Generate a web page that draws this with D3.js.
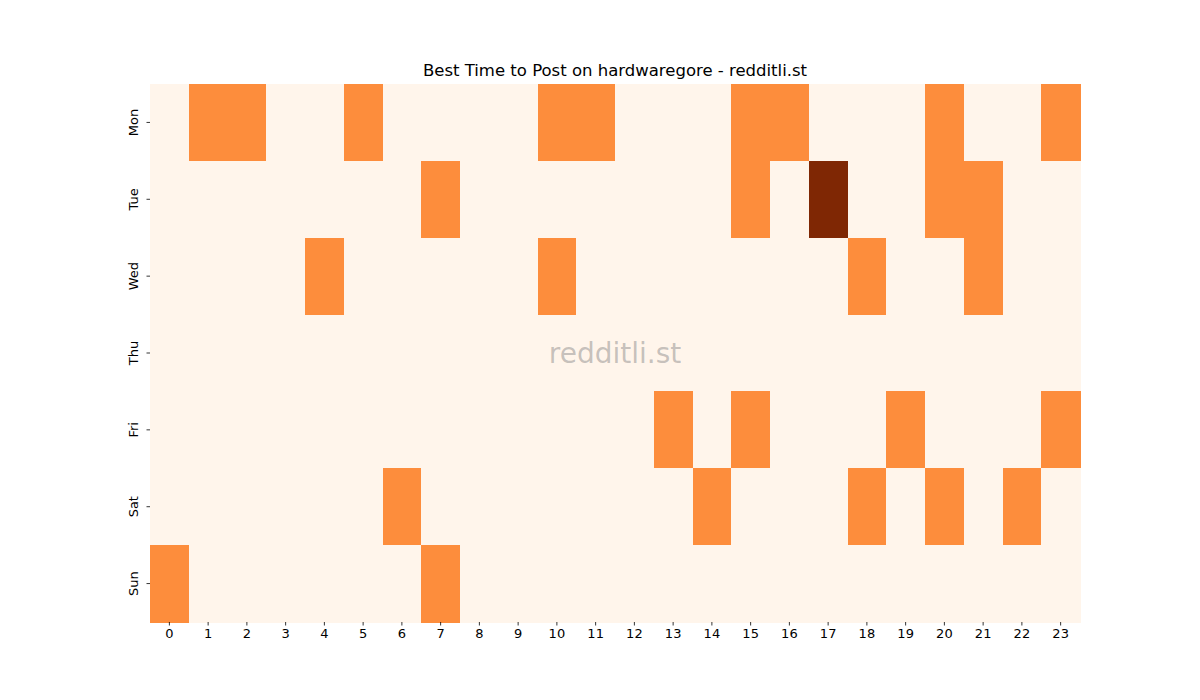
<!DOCTYPE html>
<html>
<head>
<meta charset="utf-8">
<script src="https://cdn.jsdelivr.net/npm/d3@7"></script>
<style>
  body { margin: 0; background: #fff; }
  svg text { font-family: "DejaVu Sans", sans-serif; }
</style>
</head>
<body>
<svg id="chart"></svg>
<script>
const days = ["Mon", "Tue", "Wed", "Thu", "Fri", "Sat", "Sun"];
const hours = d3.range(24).map(String);

// posts per hour, one row per weekday
const mon = [0,1,1,0,0,1,0,0,0,0,1,1,0,0,0,1,1,0,0,0,1,0,0,1];
const tue = [0,0,0,0,0,0,0,1,0,0,0,0,0,0,0,1,0,2,0,0,1,1,0,0];
const wed = [0,0,0,0,1,0,0,0,0,0,1,0,0,0,0,0,0,0,1,0,0,1,0,0];
const thu = [0,0,0,0,0,0,0,0,0,0,0,0,0,0,0,0,0,0,0,0,0,0,0,0];
const fri = [0,0,0,0,0,0,0,0,0,0,0,0,0,1,0,1,0,0,0,1,0,0,0,1];
const sat = [0,0,0,0,0,0,1,0,0,0,0,0,0,0,1,0,0,0,1,0,1,0,1,0];
const sun = [1,0,0,0,0,0,0,1,0,0,0,0,0,0,0,0,0,0,0,0,0,0,0,0];
const rows = [mon, tue, wed, thu, fri, sat, sun];

const w = 1200;
const h = 700;
const margin = { top: 84, right: 120, bottom: 78, left: 150 };

const svg = d3.select("#chart")
    .attr("width", w)
    .attr("height", h);

const xScale = d3.scaleBand()
    .domain(hours)
    .range([margin.left, w - margin.right]);

const yScale = d3.scaleBand()
    .domain(days)
    .range([margin.top, h - margin.bottom]);

const color = d3.scaleOrdinal()
    .domain([0, 1, 2])
    .range(["#fff5eb", "#fd8d3c", "#7f2704"]);

const cells = [];
rows.forEach((r, i) => r.forEach((v, j) => cells.push({ day: days[i], hour: hours[j], v })));

svg.selectAll("rect")
    .data(cells)
    .enter()
    .append("rect")
    .attr("x", d => xScale(d.hour))
    .attr("y", d => yScale(d.day))
    .attr("width", xScale.bandwidth() + 0.5)
    .attr("height", yScale.bandwidth() + 0.5)
    .attr("fill", d => color(d.v))
    .attr("shape-rendering", "crispEdges");

const xAxis = d3.axisBottom(xScale).tickSize(3.5).tickPadding(3.5);
const gx = svg.append("g")
    .attr("transform", `translate(0,${h - margin.bottom})`)
    .call(xAxis);
gx.select(".domain").remove();
gx.selectAll("text").attr("font-size", 13).attr("fill", "#000");
gx.selectAll("line").attr("stroke", "#000").attr("stroke-width", 0.8);

const yAxis = d3.axisLeft(yScale).tickSize(3.5).tickPadding(3.5);
const gy = svg.append("g")
    .attr("transform", `translate(${margin.left},0)`)
    .call(yAxis);
gy.select(".domain").remove();
gy.selectAll("line").attr("stroke", "#000").attr("stroke-width", 0.8);
gy.selectAll("text")
    .attr("font-size", 13)
    .attr("fill", "#000")
    .attr("x", null)
    .attr("text-anchor", "middle")
    .attr("transform", "translate(-17,0) rotate(-90)")
    .attr("dy", "0.35em");

svg.append("text")
    .attr("x", (margin.left + w - margin.right) / 2)
    .attr("y", 76)
    .attr("text-anchor", "middle")
    .attr("font-size", 16.5)
    .text("Best Time to Post on hardwaregore - redditli.st");

svg.append("text")
    .attr("x", (margin.left + w - margin.right) / 2)
    .attr("y", 363)
    .attr("text-anchor", "middle")
    .attr("font-size", 28)
    .attr("fill", "#808080")
    .attr("fill-opacity", 0.45)
    .text("redditli.st");
</script>
</body>
</html>
